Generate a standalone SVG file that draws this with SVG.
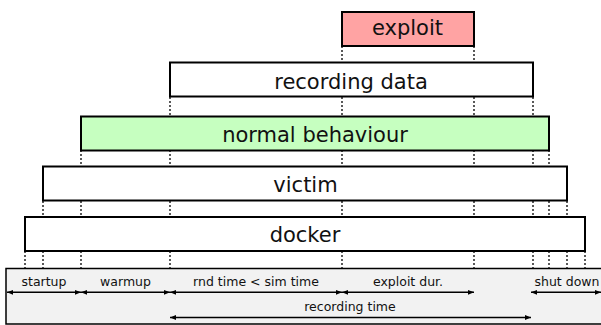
<svg xmlns="http://www.w3.org/2000/svg" width="601" height="325" viewBox="0 0 601 325">
  <style>
    .box { stroke: #000; stroke-width: 2; }
    .lbl { font-family: "DejaVu Sans", sans-serif; font-size: 21px; fill: #111; text-anchor: middle; }
    .small { font-family: "DejaVu Sans", sans-serif; font-size: 12.5px; fill: #111; text-anchor: middle; }
    .dot { stroke: #000; stroke-width: 1.3; stroke-dasharray: 2 2; fill: none; }
    .arr { stroke: #000; stroke-width: 1.6; fill: none; marker-start: url(#head-s); marker-end: url(#head-e); }
  </style>
  <defs>
    <marker id="head-e" viewBox="0 0 10 10" refX="10" refY="5" markerWidth="7" markerHeight="6" markerUnits="userSpaceOnUse" orient="auto">
      <path d="M0,1 L10,5 L0,9 Z" fill="#000"/>
    </marker>
    <marker id="head-s" viewBox="0 0 10 10" refX="0" refY="5" markerWidth="7" markerHeight="6" markerUnits="userSpaceOnUse" orient="auto">
      <path d="M10,1 L0,5 L10,9 Z" fill="#000"/>
    </marker>
  </defs>

  <!-- timeline panel -->
  <g id="timeline">
    <rect x="6" y="268.5" width="600" height="55.5" fill="#f2f2f2" stroke="#000" stroke-width="1.5"/>
  </g>

  <!-- dotted guides between layers -->
  <g id="connectors">
    <path class="dot" d="M342,46 V62 M474,46 V62"/>
    <path class="dot" d="M170,97 V116 M342,97 V116 M474,97 V116 M533,97 V116"/>
    <path class="dot" d="M81,150 V166 M170,150 V166 M342,150 V166 M474,150 V166 M533,150 V166 M549,150 V166"/>
    <path class="dot" d="M43,201 V217 M81,201 V217 M170,201 V217 M342,201 V217 M474,201 V217 M533,201 V217 M549,201 V217 M567,201 V217"/>
    <path class="dot" d="M25,251 V268 M43,251 V268 M81,251 V268 M170,251 V268 M342,251 V268 M474,251 V268 M533,251 V268 M549,251 V268 M567,251 V268 M585,251 V268"/>

    <!-- phase arrows -->
    <line class="arr" x1="7" y1="292.3" x2="81" y2="292.3"/>
    <line class="arr" x1="81" y1="292.3" x2="170" y2="292.3"/>
    <line class="arr" x1="170" y1="292.3" x2="342" y2="292.3"/>
    <line class="arr" x1="342" y1="292.3" x2="474" y2="292.3"/>
    <line class="arr" x1="531" y1="292.3" x2="601" y2="292.3"/>
    <line class="arr" x1="170" y1="317.5" x2="531" y2="317.5"/>
  </g>

  <g id="labels">
    <text class="small" x="44" y="286">startup</text>
    <text class="small" x="125.5" y="286">warmup</text>
    <text class="small" x="256" y="286">rnd time &lt; sim time</text>
    <text class="small" x="408" y="286">exploit dur.</text>
    <text class="small" x="567" y="286">shut down</text>
    <text class="small" x="350" y="311">recording time</text>
  </g>

  <g id="exploit">
    <rect class="box" x="342" y="12" width="132" height="34" fill="#ffa3a3"/>
    <text class="lbl" x="407.5" y="35">exploit</text>
  </g>
  <g id="recording-data">
    <rect class="box" x="170" y="62.5" width="363" height="34" fill="#fff"/>
    <text class="lbl" x="351" y="88.5">recording data</text>
  </g>
  <g id="normal-behaviour">
    <rect class="box" x="81" y="116.5" width="468" height="34" fill="#c6ffc0"/>
    <text class="lbl" x="315" y="141.5">normal behaviour</text>
  </g>
  <g id="victim">
    <rect class="box" x="43" y="166.5" width="524" height="34" fill="#fff"/>
    <text class="lbl" x="305.5" y="192">victim</text>
  </g>
  <g id="docker">
    <rect class="box" x="25" y="217" width="560" height="34" fill="#fff"/>
    <text class="lbl" x="305" y="242">docker</text>
  </g>
</svg>
